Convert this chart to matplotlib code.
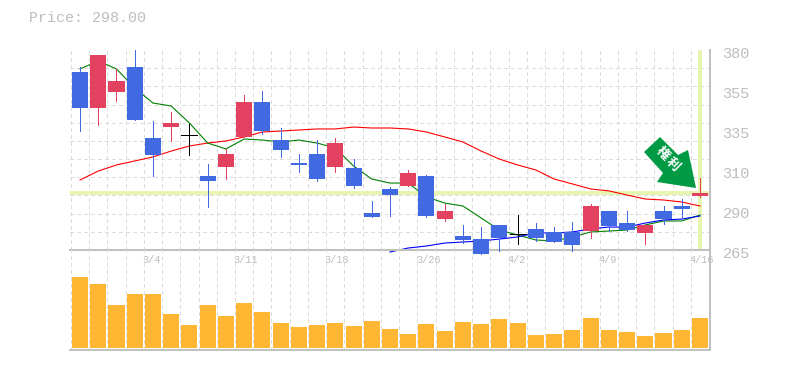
#!/usr/bin/env python3
"""Daily candlestick chart with moving averages and volume panel."""

import matplotlib
matplotlib.use('Agg')
import matplotlib.pyplot as plt
import numpy as np
from matplotlib.patches import Polygon, Rectangle
from matplotlib.transforms import IdentityTransform, ScaledTranslation

plt.rcParams['lines.antialiased'] = False
plt.rcParams['patch.antialiased'] = False

# Candles, oldest first
opens = [367.4, 346.65, 355.85, 370.2, 329.4, 335.7, 331.1, 307.55, 312.7, 330.0,
         350.1, 328.25, 315.0, 320.2, 312.7, 312.15, 286.3, 300.1, 301.8, 307.55,
         282.8, 273.05, 271.3, 279.4, 274.2, 277.1, 275.35, 275.35, 275.9, 287.4,
         280.5, 274.8, 287.4, 290.3, 296.0]
closes = [346.65, 377.1, 362.2, 339.75, 319.6, 338.0, 331.1, 304.7, 320.2, 350.1,
          333.4, 322.5, 313.9, 305.8, 326.5, 301.8, 284.0, 296.6, 309.3, 284.55,
          287.4, 270.75, 262.7, 271.9, 274.2, 271.9, 269.6, 267.9, 290.3, 278.8,
          276.5, 279.4, 282.8, 288.6, 298.0]
highs = [370.2, 377.1, 369.1, 380.0, 339.2, 344.35, 337.45, 314.45, 323.1, 354.1,
         356.4, 335.15, 320.2, 328.25, 329.4, 317.3, 293.2, 301.2, 311.0, 308.1,
         291.45, 279.4, 278.2, 279.4, 285.1, 280.5, 278.2, 281.1, 291.45, 287.4,
         287.4, 279.4, 290.3, 294.3, 306.4]
lows = [333.4, 336.9, 350.7, 339.75, 307.55, 327.7, 319.6, 289.7, 305.8, 330.0,
        331.7, 318.5, 309.85, 304.7, 309.85, 300.65, 284.0, 284.55, 301.8, 284.0,
        281.7, 269.0, 262.7, 264.4, 268.45, 270.2, 269.6, 264.4, 271.9, 275.9,
        275.9, 268.45, 280.0, 284.0, 295.5]

# Moving averages
ma_green = [369.1, 373.7, 369.1, 358.15, 349.5, 347.8, 338.0, 326.5, 323.1, 328.8,
            328.25, 327.1, 328.25, 326.5, 323.65, 313.3, 305.8, 303.5, 303.5, 295.5,
            292.0, 290.3, 283.4, 276.5, 273.6, 270.75, 270.2, 272.5, 275.35, 275.9,
            276.5, 279.4, 281.7, 281.7, 285.1]
ma_red = [305.25, 310.4, 313.9, 316.2, 318.5, 321.9, 324.8, 326.5, 327.7, 330.0,
          332.85, 333.4, 334.0, 334.6, 334.6, 335.7, 335.15, 335.15, 334.6, 332.85,
          330.0, 327.1, 321.9, 317.3, 313.9, 311.0, 305.8, 303.0, 300.1, 299.0,
          296.6, 294.3, 293.75, 292.6, 290.3]
ma_blue = [263.85, 266.15, 267.3, 269.0, 269.6, 270.2, 271.3, 272.5, 274.8, 274.8,
           275.35, 277.1, 278.2, 278.2, 280.5, 282.25, 282.8, 284.55]
ma_blue_start = 17

volume = [71, 64, 43, 54, 54, 34, 23, 43, 32, 45, 36, 25, 21, 23, 25, 22, 27, 19,
          14, 24, 17, 26, 24, 29, 25, 13, 14, 18, 30, 18, 16, 12, 15, 18, 30]

price = 298.00
price_ticks = [380, 357, 334, 311, 288, 265]
price_labels = ['380', '355', '335', '310', '290', '265']
date_ticks = [4, 9, 14, 19, 24, 29, 34]
date_labels = ['3/4', '3/11', '3/18', '3/26', '4/2', '4/9', '4/16']

RED = '#e2425f'
BLUE = '#4169e1'
ORANGE = '#ffb733'
GRID = '#dcdcdc'
FRAME = '#c0c0c0'
TEXT = '#bdbdbd'
HILITE = '#e6f5b0'
BADGE = '#009a44'
MONO = 'Liberation Mono'

W, H = 785, 370
n = len(opens)
xs = np.arange(n)
xlim = (-0.55, n - 1 + 0.55)
body_w = 0.88

fig = plt.figure(figsize=(W / 100, H / 100), dpi=100)
ax = fig.add_axes([70 / W, 1 - 250 / H, 640 / W, 200 / H])
vol_ax = fig.add_axes([70 / W, 1 - 350 / H, 640 / W, 100 / H])

for a in (ax, vol_ax):
    a.set_xlim(xlim)
    a.set_axisbelow(True)
    a.set_xticks(np.arange(n) - 0.5, minor=True)
    a.grid(True, which='minor', axis='x', color=GRID, linestyle=(0, (3, 3)), linewidth=0.72)
    a.tick_params(which='both', length=0)
    a.spines['top'].set_visible(False)
    a.spines['left'].set_visible(False)
    for side in ('right', 'bottom'):
        a.spines[side].set_color(FRAME)
        a.spines[side].set_linewidth(1.2)
    a.patch.set_alpha(0)

# Price panel
ax.set_ylim(265, 380)
ax.set_yticks(np.linspace(265, 380, 12), minor=True)
ax.grid(True, which='minor', axis='y', color=GRID, linestyle=(0, (3, 3)), linewidth=0.72)
ax.axvline(xs[-1], ymin=0.01, color=HILITE, linewidth=2.6, zorder=1)
ax.axhline(price, color=HILITE, linewidth=2.6, zorder=1)

ax.plot(xs, ma_red, color='#ff0000', linewidth=0.8, zorder=2, clip_on=False, antialiased=True)
ax.plot(xs, ma_green, color='#008000', linewidth=0.8, zorder=2, clip_on=False, antialiased=True)
ax.plot(xs[ma_blue_start:], ma_blue, color='#0000ff', linewidth=0.8, zorder=2.1, clip_on=False,
        antialiased=True)

for i in range(n):
    o, c = opens[i], closes[i]
    if c > o:
        color = RED
    elif c < o:
        color = BLUE
    else:
        color = 'black'
    ax.plot([i, i], [lows[i], highs[i]], color=color, linewidth=0.72, zorder=3,
            clip_on=False, solid_capstyle='butt')
    if c == o:
        ax.plot([i - body_w / 2, i + body_w / 2], [c, c], color=color, linewidth=0.72,
                zorder=3, solid_capstyle='butt')
    else:
        ax.add_patch(Rectangle((i - body_w / 2, min(o, c)), body_w, abs(c - o),
                               facecolor=color, edgecolor='none', zorder=4, clip_on=False))

ax.yaxis.tick_right()
ax.set_yticks(price_ticks)
ax.set_yticklabels(price_labels, fontsize=11, family=MONO, color=TEXT)
ax.tick_params(axis='y', which='major', pad=9)
for lab in ax.get_yticklabels():
    lab.set_verticalalignment('center')
    lab.set_transform(lab.get_transform() + ScaledTranslation(0, -3 / 72, fig.dpi_scale_trans))

ax.set_xticks(date_ticks)
ax.set_xticklabels(date_labels, fontsize=7.4, family=MONO, color=TEXT)
ax.tick_params(axis='x', which='major', pad=3.5)
for lab in ax.get_xticklabels():
    lab.set_horizontalalignment('left')
    lab.set_transform(lab.get_transform() + ScaledTranslation(-10.5 / 100, 0, fig.dpi_scale_trans))

# Volume panel
vol_ax.set_ylim(-2, 98)
vol_ax.set_xticks([])
vol_ax.set_yticks([])
vol_ax.bar(xs, volume, width=body_w, color=ORANGE, zorder=3)

# Ex-rights badge, in screen pixels from the top left corner
badge = [(660, 137), (678, 155), (688, 150), (696, 188), (657, 182), (663, 173), (644, 152)]
ax.add_patch(Polygon([(x, H - y) for x, y in badge], closed=True, facecolor=BADGE, antialiased=True,
                     edgecolor='none', transform=IdentityTransform(), zorder=5, clip_on=False))
fig.text(662.5 / W, 1 - 153 / H, '権', family='Noto Sans CJK JP', fontweight='bold', color='white',
         fontsize=9.5, rotation=-45, ha='center', va='center', zorder=6)
fig.text(672.5 / W, 1 - 164 / H, '利', family='Noto Sans CJK JP', fontweight='bold', color='white',
         fontsize=9.5, rotation=-45, ha='center', va='center', zorder=6)

fig.text(29 / W, 1 - 18 / H, f'Price: {price:.2f}', family=MONO, fontsize=10.8, color=TEXT,
         ha='left', va='center')

fig.savefig('out.png', dpi=100)
plt.close(fig)
